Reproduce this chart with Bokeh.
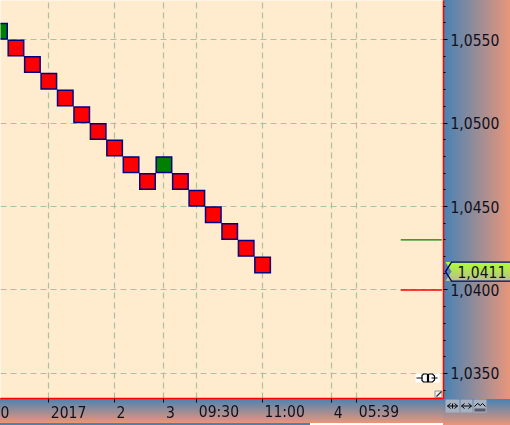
from bokeh.plotting import figure
from bokeh.models import FixedTicker, Range1d
from bokeh.core.properties import value
from bokeh.embed import file_html
from bokeh.resources import INLINE

# ---- data ----
brick_index = list(range(17))
brick_price = [1.0555, 1.0545, 1.0535, 1.0525, 1.0515, 1.0505, 1.0495, 1.0485, 1.0475,
               1.0465, 1.0475, 1.0465, 1.0455, 1.0445, 1.0435, 1.0425, 1.0415]
brick_up = [True, False, False, False, False, False, False, False, False,
            False, True, False, False, False, False, False, False]
price_ticks = [1.0350, 1.0400, 1.0450, 1.0500, 1.0550]
price_labels = ["1,0350", "1,0400", "1,0450", "1,0500", "1,0550"]
price_minor = [1.0340, 1.0360, 1.0370, 1.0380, 1.0390, 1.0410, 1.0420, 1.0430, 1.0440,
               1.0460, 1.0470, 1.0480, 1.0490, 1.0510, 1.0520, 1.0530, 1.0540, 1.0560, 1.0570]
time_ticks = [3, 7, 10, 12, 16, 20.2, 21.73]
time_labels = ["2017", "2", "3", "09:30", "11:00", "4", "05:39"]
clipped_label = "0"
last_price = 1.0411
last_label = "1,0411"
upper_level = 1.0430
lower_level = 1.0400
level_start, level_end = 24.4, 26.9

W, H, RIGHT, BOTTOM = 510, 425, 67, 27
BLUE, SALMON = "#4682b4", "#e9967a"
X0, X1 = 0.0608, 27.0
Y0, Y1 = 1.03350, 1.05734
TXT = "#10101c"
FONT_NAME = "DejaVu Sans Condensed"
FONT_SIZE = "15.5px"
FONT = value(FONT_NAME)


def bg(color):
    return f"linear-gradient({color},{color})"


layers = [
    f"{bg(BLUE)} 0 423px/310px 2px no-repeat",
    f"{bg('#ffffff')} 310px 424px/133px 1px no-repeat",
    f"linear-gradient(to bottom,{BLUE},{SALMON}) 0 398px/443px 25px no-repeat",
    f"linear-gradient(to bottom,{BLUE},{SALMON}) 443px 399px/67px 26px no-repeat",
    f"linear-gradient(to right,{BLUE},{SALMON}) 443px 0/67px 399px no-repeat",
]

p = figure(width=W, height=H, output_backend="svg", toolbar_location=None,
           x_range=Range1d(X0, X1), y_range=Range1d(Y0, Y1),
           y_axis_location="right", min_border_left=0, min_border_top=0,
           min_border_right=RIGHT, min_border_bottom=BOTTOM,
           background_fill_color="#ffebcd", border_fill_color=None,
           outline_line_color=None,
           styles={"position": "fixed", "left": "0px", "top": "0px",
                   "background": ",".join(layers)})

xa, ya = p.xaxis[0], p.yaxis[0]
xa.ticker = FixedTicker(ticks=time_ticks)
xa.major_label_text_color = None
xa.major_label_text_font_size = "1px"
xa.axis_line_color = "#ff0000"
xa.axis_line_width = 1.5
xa.major_tick_line_color = "#000000"
xa.major_tick_in = 0
xa.major_tick_out = 4
xa.minor_tick_line_color = None
ya.ticker = FixedTicker(ticks=price_ticks, minor_ticks=price_minor)
ya.major_label_overrides = dict(zip(price_ticks, price_labels))
ya.major_label_text_font = FONT_NAME
ya.major_label_text_font_size = FONT_SIZE
ya.major_label_text_color = TXT
ya.major_label_standoff = 3
ya.axis_line_color = "#ff0000"
ya.axis_line_width = 1.5
ya.major_tick_line_color = "#000000"
ya.major_tick_in = 0
ya.major_tick_out = 4
ya.minor_tick_line_color = "#000000"
ya.minor_tick_in = 0
ya.minor_tick_out = 2

for g in (p.xgrid[0], p.ygrid[0]):
    g.grid_line_color = "#a9c2a6"
    g.grid_line_dash = "6 4"
    g.grid_line_width = 1.2
p.xgrid[0].ticker = FixedTicker(ticks=time_ticks)
p.ygrid[0].ticker = FixedTicker(ticks=price_ticks)

colors = ["#008000" if u else "#ff0000" for u in brick_up]
p.rect(brick_index, brick_price, width=15.5, height=15.5, width_units="screen",
       height_units="screen", fill_color=colors, line_color="#000080", line_width=1.5,
       line_join="miter")

p.segment([level_start], [upper_level], [level_end], [upper_level], line_color="#008000", line_width=1.4)
p.segment([level_start], [lower_level], [level_end], [lower_level], line_color="#ff0000", line_width=1.4)

# ---- transparent pixel-space layer over the whole page, for the parts outside the frame ----
o = figure(width=W, height=H, output_backend="svg", toolbar_location=None,
           x_range=Range1d(0, W), y_range=Range1d(H, 0), min_border=0,
           background_fill_color=None, border_fill_color=None, outline_line_color=None,
           styles={"position": "fixed", "left": "0px", "top": "0px"})
o.axis.visible = False
o.grid.visible = False


def px(i):
    return (i - X0) / (X1 - X0) * (W - RIGHT)


def py(v):
    return (Y1 - v) / (Y1 - Y0) * (H - BOTTOM)


o.text([px(t) + 2 for t in time_ticks] + [0], [411] * (len(time_ticks) + 1),
       text=time_labels + [clipped_label], text_font=FONT, text_font_size=FONT_SIZE,
       text_color=TXT, text_align="left", text_baseline="middle")


def box(l, t, r, b, fill, line=None, width=1):
    o.quad(left=[l], right=[r], top=[t], bottom=[b], fill_color=fill, line_color=line,
           line_width=width, line_join="miter")


def line(xs, ys, color="#000000", width=1):
    o.line(xs, ys, line_color=color, line_width=width, line_join="miter")


# last-price tag
ty = py(last_price)
T, B = ty - 9.5, ty + 9.5
top_rgb, bot_rgb = (173, 255, 47), (186, 190, 140)
for i in range(19):
    f = i / 18
    col = "#%02x%02x%02x" % tuple(round(a + (b - a) * f) for a, b in zip(top_rgb, bot_rgb))
    y = T + i
    inset = 6 * abs(y + 0.5 - ty) / 9.5
    box(445 + 6 - inset, y, 510, y + 1, col)
line([510, 451, 445, 451, 510], [T, T, ty, B, B], color="#000080", width=1.4)
o.text([457], [ty], text=[last_label], text_font=FONT, text_font_size=FONT_SIZE,
       text_color=TXT, text_align="left", text_baseline="middle")

# chart-shift marker
box(415, 373, 439, 382, "#ffffff")
line([416, 422], [377.5, 377.5])
line([431, 437], [377.5, 377.5])
line([427, 423, 421.5, 421.5, 423, 427, 427], [373.5, 373.5, 375, 380, 381.5, 381.5, 373.5], width=1.2)
line([428, 432, 434, 434, 432, 428, 428], [373.5, 373.5, 375.5, 379.5, 381.5, 381.5, 373.5], width=1.2)

# corner handle
box(434.5, 390.5, 441.5, 397, "#f8f4ec", line="#8a9098")
line([436, 441], [396, 391], color="#303030", width=1.2)

# toolbar buttons
for l, r in [(445, 459), (460, 472), (473, 486)]:
    box(l, 399, r, 412, "#a6b1c2")
line([447, 457], [405.5, 405.5])
line([450, 447, 450], [403, 405.5, 408])
line([454, 457, 454], [403, 405.5, 408])
line([452, 452], [403, 408])
line([461, 471], [405.5, 405.5])
line([464, 461, 464], [403, 405.5, 408])
line([468, 471, 468], [403, 405.5, 408])
line([474, 477, 480, 482, 485], [406, 403, 405, 403, 406])
box(474, 408, 485, 411, "#555a66")

open("out.html", "w").write(file_html((p, o), INLINE))
